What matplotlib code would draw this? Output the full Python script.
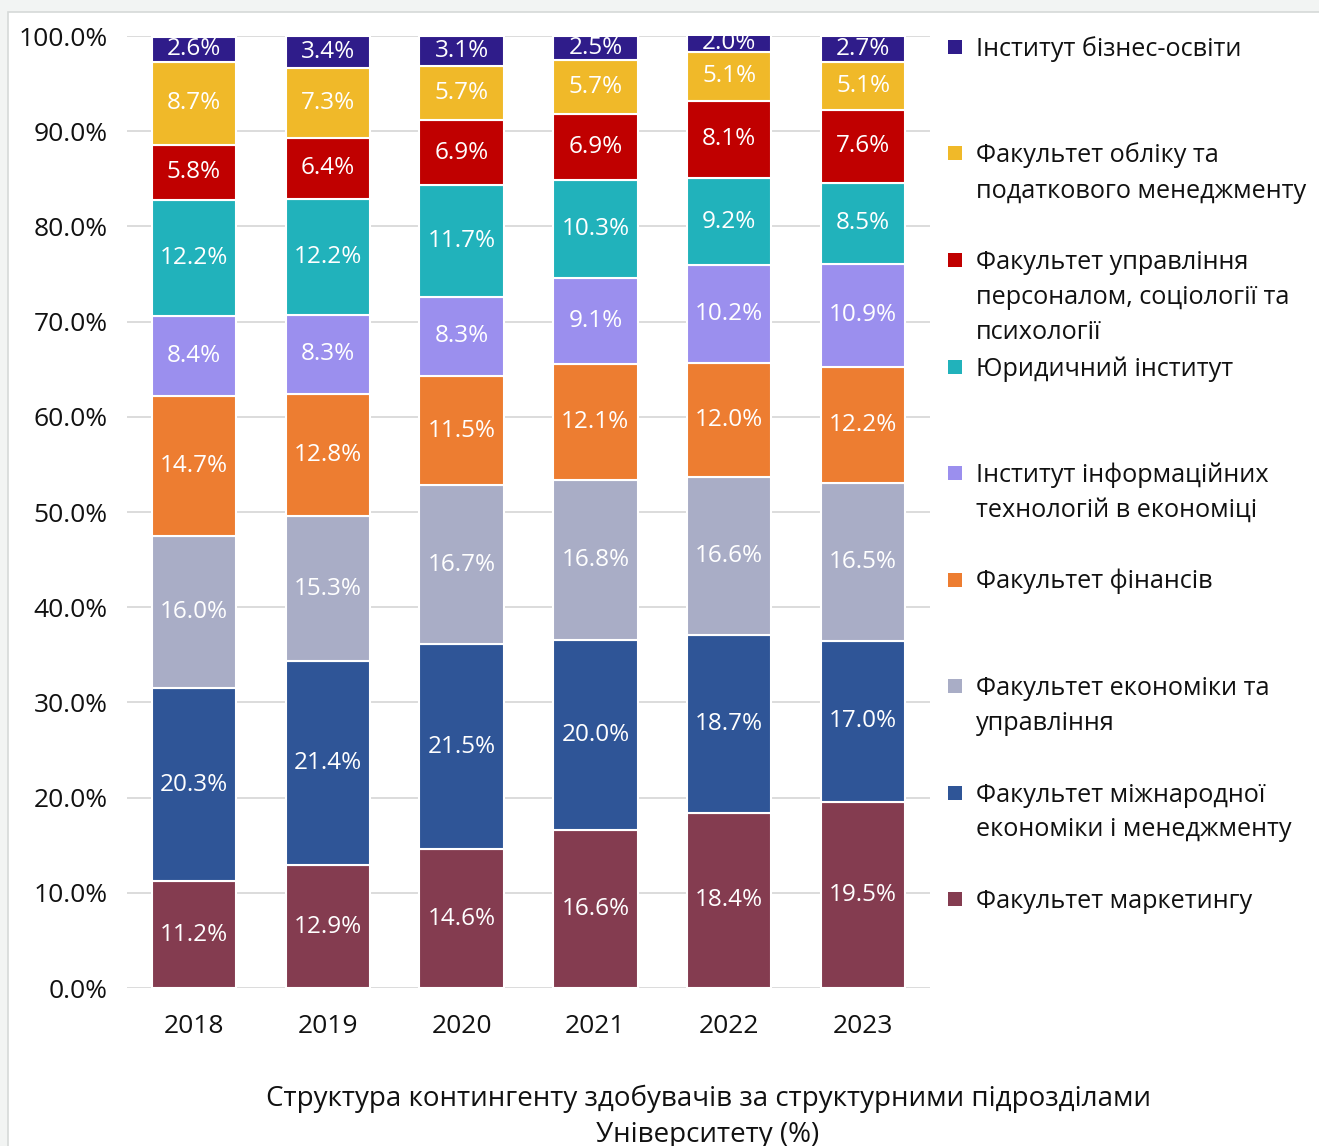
import numpy as np
import matplotlib.pyplot as plt
from matplotlib.patches import Rectangle

plt.rcParams['font.family'] = ['Open Sans', 'DejaVu Sans']

W, H = 1319, 1146

years = ['2018', '2019', '2020', '2021', '2022', '2023']

# shares in %, bottom of the stack first
marketing = [11.2, 12.9, 14.6, 16.6, 18.4, 19.5]
intl_econ = [20.3, 21.4, 21.5, 20.0, 18.7, 17.0]
econ_mgmt = [16.0, 15.3, 16.7, 16.8, 16.6, 16.5]
finance = [14.7, 12.8, 11.5, 12.1, 12.0, 12.2]
it_inst = [8.4, 8.3, 8.3, 9.1, 10.2, 10.9]
law_inst = [12.2, 12.2, 11.7, 10.3, 9.2, 8.5]
hr_soc = [5.8, 6.4, 6.9, 6.9, 8.1, 7.6]
accounting = [8.7, 7.3, 5.7, 5.7, 5.1, 5.1]
business = [2.6, 3.4, 3.1, 2.5, 2.0, 2.7]

series = [marketing, intl_econ, econ_mgmt, finance, it_inst,
          law_inst, hr_soc, accounting, business]
names = ['Факультет маркетингу',
         'Факультет міжнародної\nекономіки і менеджменту',
         'Факультет економіки та\nуправління',
         'Факультет фінансів',
         'Інститут інформаційних\nтехнологій в економіці',
         'Юридичний інститут',
         'Факультет управління\nперсоналом, соціології та\nпсихології',
         'Факультет обліку та\nподаткового менеджменту',
         'Інститут бізнес-освіти']
colors = ['#843c50', '#2f5597', '#a9adc6', '#ed7d31', '#9b8fee',
          '#21b2bb', '#c00000', '#f0b929', '#2f1c8a']

fig = plt.figure(figsize=(W / 100, H / 100), dpi=100)
fig.patch.set_facecolor('#f2f4f3')
fig.add_artist(Rectangle((8 / W, -0.01), 1, (H - 12) / H + 0.01,
                         transform=fig.transFigure, facecolor='white',
                         edgecolor='#d6d9d8', lw=1.2, zorder=-1))

ax = fig.add_axes([127 / W, 1 - 988 / H, (930 - 127) / W, (988 - 36) / H])
ax.set_facecolor('white')

x = np.arange(len(years))
bottom = np.zeros(len(years))
for vals, col in zip(series, colors):
    vals = np.array(vals)
    ax.bar(x, vals, 0.63, bottom=bottom, color=col, edgecolor='white',
           linewidth=1.5, zorder=2)
    for xi, v, b in zip(x, vals, bottom):
        ax.text(xi, b + v / 2, f'{v:.1f}%', ha='center', va='center',
                color='white', fontsize=17.5, clip_on=True, zorder=3)
    bottom += vals

ax.set_xlim(-0.5, len(years) - 0.5)
ax.set_ylim(0, 100)
ax.set_xticks(x)
ax.set_xticklabels(years)
ticks = np.arange(0, 101, 10)
ax.set_yticks(ticks)
ax.set_yticklabels([f'{t:.1f}%' for t in ticks])
ax.yaxis.grid(True, color='#d9d9d9', lw=1.3)
ax.set_axisbelow(True)
for s in ax.spines.values():
    s.set_visible(False)
ax.tick_params(axis='y', length=0, labelsize=19, pad=14, colors='#111111')
ax.tick_params(axis='x', length=0, labelsize=19, pad=19, colors='#111111')

# legend drawn by hand, top entry first
for i, (name, col) in enumerate(zip(names[::-1], colors[::-1])):
    yc = 47 + i * 106.5
    fig.add_artist(Rectangle((948 / W, 1 - (yc + 7) / H), 14 / W, 14 / H,
                             transform=fig.transFigure, facecolor=col,
                             edgecolor='none'))
    for k, line in enumerate(name.split('\n')):
        fig.text(976 / W, 1 - (yc + 9 + 35 * k) / H, line, va='baseline',
                 ha='left', fontsize=18.2, color='#111111')

title = ['Структура контингенту здобувачів за структурними підрозділами',
         'Університету (%)']
for k, line in enumerate(title):
    fig.text(708 / W, 1 - (1106 + 36 * k) / H, line, ha='center',
             va='baseline', fontsize=20, color='#111111')

fig.savefig('out.png', dpi=100, facecolor=fig.get_facecolor())
